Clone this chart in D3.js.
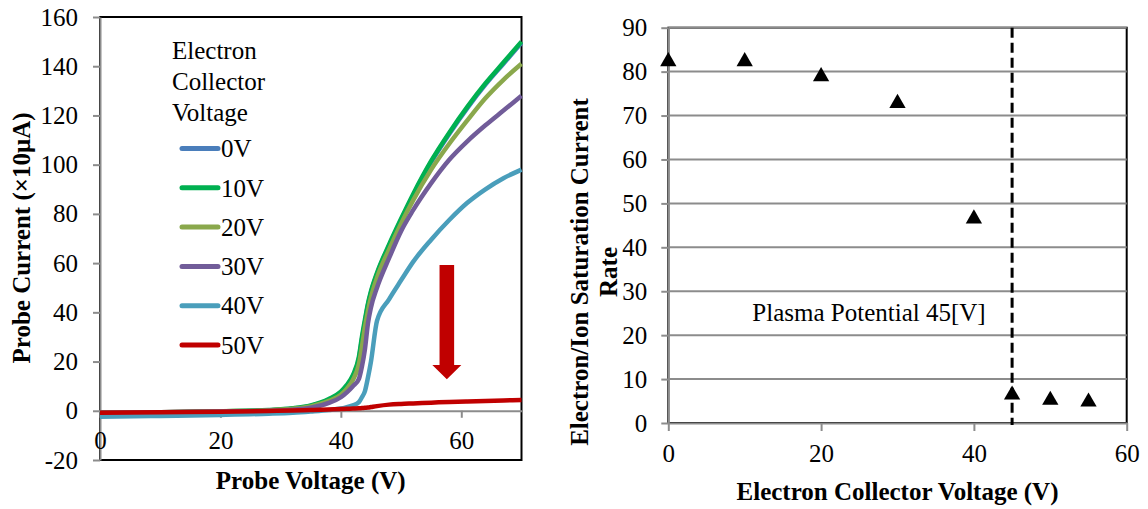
<!DOCTYPE html>
<html>
<head>
<meta charset="utf-8">
<script src="https://cdn.jsdelivr.net/npm/d3@7"></script>
<style>
  html, body { margin: 0; padding: 0; background: #fff; }
  svg text { font-family: "Liberation Serif", "Times New Roman", serif; }
</style>
</head>
<body>
<svg id="chart" width="1148" height="509"></svg>
<script>
// left panel: probe I-V curves per electron collector voltage
const probeVoltage = [0, 10, 20, 28, 32, 35, 38, 40, 41, 42, 43, 43.5, 44, 44.5, 45, 46, 48, 50, 52, 55, 58, 61, 64, 67, 70];
const current0V  = [-0.9, -0.7, -0.3, 0.2, 0.9, 2.0, 4.5, 7.5, 10, 14, 21, 29, 36, 43, 48, 55.5, 67, 77.5, 87.5, 101, 112.5, 123, 132.5, 141, 149.5];
const current10V = [-0.8, -0.6, -0.2, 0.3, 1.0, 2.2, 4.8, 7.8, 10.5, 14.5, 22, 30, 37, 43.5, 48.5, 56, 67.5, 78, 88, 101.5, 113, 123.5, 133, 141.5, 150];
const current20V = [-0.8, -0.6, -0.2, 0.2, 0.8, 1.8, 4.0, 6.5, 9, 12.5, 19, 26, 34, 40.5, 46, 54, 65.5, 76, 85.5, 98, 108.5, 118, 127, 134.5, 141];
const current30V = [-0.8, -0.6, -0.3, 0, 0.4, 1.2, 3.2, 5.5, 7.5, 10, 13, 18, 25, 35.5, 42, 50, 62, 73, 81.5, 92.5, 102, 109.5, 116, 122, 128];
const current40V = [-2.4, -2.1, -1.7, -1.2, -0.8, -0.3, 0.3, 0.9, 1.5, 2.2, 3.5, 5.5, 8, 13.5, 20, 36.5, 45.3, 53, 60.5, 69.5, 77.5, 84.5, 90, 94.5, 98];
const current50V = [-0.8, -0.6, -0.4, -0.1, 0.1, 0.3, 0.5, 0.7, 0.8, 0.9, 1.0, 1.1, 1.2, 1.3, 1.5, 1.9, 2.5, 2.8, 3.0, 3.3, 3.6, 3.8, 4.0, 4.2, 4.4];
const seriesNames = ["0V", "10V", "20V", "30V", "40V", "50V"];
const seriesColors = ["#4a7ebb", "#00b050", "#8aa84c", "#715c99", "#4a9ebb", "#c00000"];
const legendTitle = ["Electron", "Collector", "Voltage"];
const leftYTicks = [-20, 0, 20, 40, 60, 80, 100, 120, 140, 160];
const leftXTicks = [0, 20, 40, 60];

// right panel: saturation current ratio
const collectorVoltage = [0, 10, 20, 30, 40, 45, 50, 55];
const saturationRate = [82.3, 82.3, 78.9, 72.8, 46.5, 6.4, 5.2, 4.8];
const rightYTicks = [0, 10, 20, 30, 40, 50, 60, 70, 80, 90];
const rightXTicks = [0, 20, 40, 60];
const plasmaPotential = 45;

const svg = d3.select("#chart");
const gray = "#8c8c8c";
const fontSize = 25;
const serif = "'Liberation Serif', 'Times New Roman', serif";
const plain = d => String(d);   // keep ascii hyphen for negatives

// ---------- left chart ----------
const xL = d3.scaleLinear().domain([0, 70]).range([100, 521.5]);
const yL = d3.scaleLinear().domain([-20, 160]).range([460, 17]);

const left = svg.append("g");

left.append("rect")
  .attr("x", xL(0)).attr("y", yL(160))
  .attr("width", xL(70) - xL(0)).attr("height", yL(-20) - yL(160))
  .attr("fill", "none").attr("stroke", "#000").attr("stroke-width", 2);

const leftYAxis = left.append("g")
  .attr("transform", `translate(${xL(0)},0)`)
  .call(d3.axisLeft(yL).tickValues(leftYTicks).tickFormat(plain).tickSize(7).tickSizeOuter(0).tickPadding(15));

const leftXAxis = left.append("g")
  .attr("transform", `translate(0,${yL(0)})`)
  .call(d3.axisBottom(xL).tickValues(leftXTicks).tickFormat(plain).tickSize(7).tickSizeOuter(0).tickPadding(13));

const series = [current0V, current10V, current20V, current30V, current40V, current50V];

const line = d3.line()
  .x(d => xL(d[0]))
  .y(d => yL(d[1]))
  .curve(d3.curveMonotoneX);

left.append("clipPath").attr("id", "clipL")
  .append("rect")
  .attr("x", xL(0)).attr("y", yL(160))
  .attr("width", xL(70) - xL(0) + 2).attr("height", yL(-20) - yL(160));

left.append("g").attr("clip-path", "url(#clipL)")
  .selectAll("path")
  .data(series)
  .join("path")
  .attr("d", vals => line(vals.map((v, i) => [probeVoltage[i], v])))
  .attr("fill", "none")
  .attr("stroke", (d, i) => seriesColors[i])
  .attr("stroke-width", 4.5)
  .attr("stroke-linejoin", "round");

// legend
left.append("g").selectAll("text")
  .data(legendTitle)
  .join("text")
  .attr("x", 172)
  .attr("y", (d, i) => 50 + i * 31)
  .attr("dy", "0.35em")
  .style("font-size", fontSize + "px")
  .text(d => d);

const legendItem = left.append("g").selectAll("g")
  .data(seriesNames)
  .join("g")
  .attr("transform", (d, i) => `translate(0,${148.5 + i * 39.3})`);

legendItem.append("line")
  .attr("x1", 182).attr("x2", 218)
  .attr("stroke", (d, i) => seriesColors[i])
  .attr("stroke-width", 5)
  .attr("stroke-linecap", "round");

legendItem.append("text")
  .attr("x", 221)
  .attr("dy", "0.35em")
  .style("font-size", fontSize + "px")
  .text(d => d);

// red arrow showing decrease
const ax = xL(57.6), aTop = yL(59.2), aBase = yL(18.6), aTip = yL(12.8);
left.append("path")
  .attr("d", `M${ax - 7.3},${aTop} L${ax + 7.3},${aTop} L${ax + 7.3},${aBase} L${ax + 14.5},${aBase}
              L${ax},${aTip} L${ax - 14.5},${aBase} L${ax - 7.3},${aBase} Z`)
  .attr("fill", "#c00000");

left.append("text")
  .attr("x", 21).attr("y", 238)
  .attr("transform", "rotate(-90,21,238)")
  .attr("text-anchor", "middle")
  .attr("dy", "0.35em")
  .style("font-size", fontSize + "px")
  .style("font-weight", "bold")
  .text("Probe Current (×10μA)");

left.append("text")
  .attr("x", (xL(0) + xL(70)) / 2).attr("y", 480)
  .attr("text-anchor", "middle")
  .attr("dy", "0.35em")
  .style("font-size", fontSize + "px")
  .style("font-weight", "bold")
  .text("Probe Voltage (V)");

// ---------- right chart ----------
const xR = d3.scaleLinear().domain([0, 60]).range([668.3, 1126.7]);
const yR = d3.scaleLinear().domain([0, 90]).range([423, 27.7]);

const right = svg.append("g");

right.append("rect")
  .attr("x", xR(0)).attr("y", yR(90))
  .attr("width", xR(60) - xR(0)).attr("height", yR(0) - yR(90))
  .attr("fill", "none").attr("stroke", "#000").attr("stroke-width", 2);

right.append("g").selectAll("line")
  .data(rightYTicks.filter(d => d > 0))
  .join("line")
  .attr("x1", xR(0)).attr("x2", xR(60))
  .attr("y1", d => yR(d)).attr("y2", d => yR(d))
  .attr("stroke", gray).attr("stroke-width", 2);

const rightYAxis = right.append("g")
  .attr("transform", `translate(${xR(0)},0)`)
  .call(d3.axisLeft(yR).tickValues(rightYTicks).tickFormat(plain).tickSize(7).tickSizeOuter(0).tickPadding(14));

const rightXAxis = right.append("g")
  .attr("transform", `translate(0,${yR(0)})`)
  .call(d3.axisBottom(xR).tickValues(rightXTicks).tickFormat(plain).tickSize(8).tickSizeOuter(0).tickPadding(13));

// style all axes like the Excel original
[leftYAxis, leftXAxis, rightYAxis, rightXAxis].forEach(a => {
  a.attr("font-family", serif).attr("font-size", fontSize);
  a.select(".domain").attr("stroke", gray).attr("stroke-width", 2);
  a.selectAll(".tick line").attr("stroke", gray).attr("stroke-width", 2);
  a.selectAll(".tick text")
    .attr("fill", "#000")
    .style("font-family", serif)
    .style("font-size", fontSize + "px");
});

right.append("line")
  .attr("x1", xR(plasmaPotential)).attr("x2", xR(plasmaPotential))
  .attr("y1", yR(90)).attr("y2", yR(0) + 2)
  .attr("stroke", "#000")
  .attr("stroke-width", 3)
  .attr("stroke-dasharray", "10,5");

right.append("g").selectAll("path")
  .data(collectorVoltage)
  .join("path")
  .attr("transform", (d, i) => `translate(${xR(d)},${yR(saturationRate[i])})`)
  .attr("d", d3.symbol(d3.symbolTriangle, 115))
  .attr("fill", "#000");

right.append("text")
  .attr("x", xR(11)).attr("y", yR(25.3))
  .attr("dy", "0.35em")
  .style("font-size", fontSize + "px")
  .text("Plasma Potential 45[V]");

right.append("g").selectAll("text")
  .data(["Electron/Ion Saturation Current", "Rate"])
  .join("text")
  .attr("x", (d, i) => 579 + i * 29)
  .attr("y", 272)
  .attr("transform", (d, i) => `rotate(-90,${579 + i * 29},272)`)
  .attr("text-anchor", "middle")
  .attr("dy", "0.35em")
  .style("font-size", fontSize + "px")
  .style("font-weight", "bold")
  .text(d => d);

right.append("text")
  .attr("x", (xR(0) + xR(60)) / 2).attr("y", 491)
  .attr("text-anchor", "middle")
  .attr("dy", "0.35em")
  .style("font-size", fontSize + "px")
  .style("font-weight", "bold")
  .text("Electron Collector Voltage (V)");
</script>
</body>
</html>
